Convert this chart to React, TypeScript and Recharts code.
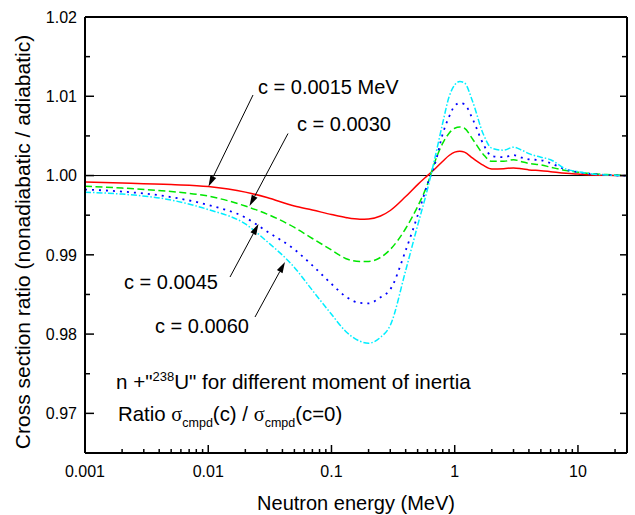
import { LineChart, Line, XAxis, YAxis, ReferenceLine } from 'recharts';

// neutron energy grid (MeV)
const energy = [
  0.001, 0.002, 0.005, 0.01, 0.02, 0.03, 0.05, 0.07, 0.1, 0.13, 0.17, 0.2, 0.25, 0.3, 0.4, 0.5, 0.6,
  0.7, 0.8, 0.9, 1.0, 1.1, 1.2, 1.4, 1.7, 2.0, 2.5, 3.0, 3.5, 4.0, 5.0, 6.0, 8.0, 10, 13, 17, 22, 25,
];

// sigma_cmpd(c) / sigma_cmpd(c=0) for each moment-of-inertia parameter c
const ratioC0015 = [
  0.9992, 0.99907, 0.99886, 0.99861, 0.99791, 0.99722, 0.99615, 0.99565, 0.99508, 0.9947, 0.99448,
  0.99452, 0.99489, 0.99559, 0.99735, 0.99886, 0.99999, 1.00093, 1.00181, 1.00253, 1.00295, 1.00307,
  1.00295, 1.00219, 1.00131, 1.00083, 1.00087, 1.00096, 1.00085, 1.00071, 1.00062, 1.00049, 1.00028,
  1.00018, 1.00008, 1.00003, 1.0, 1.0,
];
const ratioC0030 = [
  0.99864, 0.99842, 0.99798, 0.99741, 0.99615, 0.99514, 0.99345, 0.99206, 0.99061, 0.98954, 0.98917,
  0.98917, 0.98967, 0.99068, 0.99332, 0.99609, 0.99886, 1.002, 1.00408, 1.00534, 1.00597, 1.00612,
  1.00597, 1.00458, 1.0027, 1.00179, 1.00179, 1.002, 1.00175, 1.00153, 1.00134, 1.00106, 1.00062,
  1.00043, 1.00024, 1.00012, 1.00003, 1.0,
];
const ratioC0045 = [
  0.99823, 0.99798, 0.99728, 0.99628, 0.9947, 0.99294, 0.99068, 0.98866, 0.98633, 0.98476, 0.98394,
  0.98388, 0.98464, 0.98564, 0.99055, 0.99496, 0.99886, 1.00175, 1.00528, 1.00742, 1.0088, 1.00914,
  1.00899, 1.0071, 1.00402, 1.00244, 1.00232, 1.00257, 1.00226, 1.00204, 1.00194, 1.00156, 1.00075,
  1.00043, 1.0002, 1.00008, 1.0, 1.0,
];
const ratioC0060 = [
  0.99789, 0.99766, 0.99691, 0.99571, 0.99389, 0.99168, 0.98841, 0.98552, 0.9825, 0.98036, 0.9791,
  0.97885, 0.9796, 0.98111, 0.98803, 0.9937, 0.99823, 1.00263, 1.00666, 1.00993, 1.01144, 1.01186,
  1.01169, 1.0093, 1.00528, 1.00345, 1.0032, 1.00358, 1.0032, 1.00276, 1.00232, 1.002, 1.00081,
  1.00049, 1.0002, 1.00008, 1.0, 1.0,
];

const majorX = [0.001, 0.01, 0.1, 1, 10];
const minorX = [
  0.002, 0.003, 0.004, 0.005, 0.006, 0.007, 0.008, 0.009,
  0.02, 0.03, 0.04, 0.05, 0.06, 0.07, 0.08, 0.09,
  0.2, 0.3, 0.4, 0.5, 0.6, 0.7, 0.8, 0.9,
  2, 3, 4, 5, 6, 7, 8, 9, 20,
];
const majorY = [0.97, 0.98, 0.99, 1.0, 1.01, 1.02];
const minorY = [0.975, 0.985, 0.995, 1.005, 1.015];

const xTicks = [...majorX, ...minorX].sort((a, b) => a - b);
const yTicks = [...majorY, ...minorY].sort((a, b) => a - b);

const data = energy.map((e, i) => ({
  e,
  c1: ratioC0015[i],
  c2: ratioC0030[i],
  c3: ratioC0045[i],
  c4: ratioC0060[i],
}));

const FONT = '"Liberation Sans", Arial, Helvetica, sans-serif';
const SERIF = '"Liberation Serif", serif';
const W = 635;
const H = 515;

const isMajor = (list: number[], v: number) => list.some((m) => Math.abs(m - v) < 1e-9);

const BottomTick = ({ x, y, payload }: any) => {
  const major = isMajor(majorX, payload.value);
  return (
    <g>
      <line x1={x} y1={y} x2={x} y2={y - (major ? 8 : 4)} stroke="#000" strokeWidth={1.5} />
      {major && (
        <text x={x} y={y + 23.5} textAnchor="middle" fontSize={16} fontFamily={FONT} fill="#000">
          {String(payload.value)}
        </text>
      )}
    </g>
  );
};

const TopTick = ({ x, y, payload }: any) => {
  const major = isMajor(majorX, payload.value);
  return <line x1={x} y1={y} x2={x} y2={y + (major ? 8 : 4)} stroke="#000" strokeWidth={1.5} />;
};

const LeftTick = ({ x, y, payload }: any) => {
  const major = isMajor(majorY, payload.value);
  return (
    <g>
      <line x1={x} y1={y} x2={x + (major ? 9 : 5)} y2={y} stroke="#000" strokeWidth={1.5} />
      {major && (
        <text x={x - 8} y={y} dy="0.36em" textAnchor="end" fontSize={16} fontFamily={FONT} fill="#000">
          {payload.value.toFixed(2)}
        </text>
      )}
    </g>
  );
};

const RightTick = ({ x, y, payload }: any) => {
  const major = isMajor(majorY, payload.value);
  return <line x1={x} y1={y} x2={x - (major ? 7 : 5)} y2={y} stroke="#000" strokeWidth={1.5} />;
};

// labelled arrows pointing at the curves
const notes = [
  { text: 'c = 0.0015 MeV', tx: 258, ty: 94, from: [253, 95], to: [208.5, 186.5] },
  { text: 'c = 0.0030', tx: 297, ty: 130.5, from: [288, 133.5], to: [249.5, 206] },
  { text: 'c = 0.0045', tx: 124, ty: 289, from: [230, 277], to: [258.5, 224] },
  { text: 'c = 0.0060', tx: 155, ty: 332.5, from: [255, 317], to: [285, 262] },
];

function Arrow({ from, to }: { from: number[]; to: number[] }) {
  const [x1, y1] = from;
  const [x2, y2] = to;
  const len = Math.hypot(x2 - x1, y2 - y1);
  const ux = (x2 - x1) / len;
  const uy = (y2 - y1) / len;
  const hl = 11;
  const hw = 3.2;
  const bx = x2 - ux * hl;
  const by = y2 - uy * hl;
  const pts = `${x2},${y2} ${bx - uy * hw},${by + ux * hw} ${bx + uy * hw},${by - ux * hw}`;
  return (
    <g>
      <line x1={x1} y1={y1} x2={bx} y2={by} stroke="#000" strokeWidth={1} />
      <polygon points={pts} fill="#000" />
    </g>
  );
}

export default function App() {
  return (
    <div style={{ position: 'relative', width: W, height: H, background: '#fff' }}>
      <style>{'body{margin:0}'}</style>
      <LineChart width={W} height={H} data={data} margin={{ top: 7, right: 0, bottom: 0, left: 0 }}>
        <XAxis
          xAxisId="bottom"
          dataKey="e"
          type="number"
          scale="log"
          domain={[0.001, 25]}
          allowDataOverflow
          ticks={xTicks}
          interval={0}
          height={62}
          tickSize={0}
          tickMargin={0}
          tickLine={false}
          axisLine={{ stroke: '#000', strokeWidth: 2 }}
          tick={<BottomTick />}
        />
        <XAxis
          xAxisId="top"
          orientation="top"
          type="number"
          scale="log"
          domain={[0.001, 25]}
          allowDataOverflow
          ticks={xTicks}
          interval={0}
          height={10}
          tickSize={0}
          tickMargin={0}
          tickLine={false}
          axisLine={{ stroke: '#000', strokeWidth: 2 }}
          tick={<TopTick />}
        />
        <YAxis
          yAxisId="left"
          type="number"
          domain={[0.965, 1.02]}
          allowDataOverflow
          ticks={yTicks}
          interval={0}
          width={85}
          tickSize={0}
          tickMargin={0}
          tickLine={false}
          axisLine={{ stroke: '#000', strokeWidth: 2 }}
          tick={<LeftTick />}
        />
        <YAxis
          yAxisId="right"
          orientation="right"
          type="number"
          domain={[0.965, 1.02]}
          allowDataOverflow
          ticks={yTicks}
          interval={0}
          width={8}
          tickSize={0}
          tickMargin={0}
          tickLine={false}
          axisLine={{ stroke: '#000', strokeWidth: 2 }}
          tick={<RightTick />}
        />
        <ReferenceLine xAxisId="bottom" yAxisId="left" y={1} stroke="#000" strokeWidth={1} />
        <Line xAxisId="bottom" yAxisId="left" type="monotone" dataKey="c1" stroke="#ff0000" strokeWidth={1.5} dot={false} isAnimationActive={false} />
        <Line xAxisId="bottom" yAxisId="left" type="monotone" dataKey="c2" stroke="#00e600" strokeWidth={1.5} strokeDasharray="7 3.5" dot={false} isAnimationActive={false} />
        <Line xAxisId="bottom" yAxisId="left" type="monotone" dataKey="c3" stroke="#0000ff" strokeWidth={1.8} strokeDasharray="2 5" dot={false} isAnimationActive={false} />
        <Line xAxisId="bottom" yAxisId="left" type="monotone" dataKey="c4" stroke="#00eeff" strokeWidth={1.5} strokeDasharray="6 2 1.5 2" dot={false} isAnimationActive={false} />
      </LineChart>

      <svg
        width={W}
        height={H}
        style={{ position: 'absolute', left: 0, top: 0, pointerEvents: 'none' }}
        fontFamily={FONT}
        fill="#000"
      >
        <text x={356} y={510} textAnchor="middle" fontSize={20}>
          Neutron energy (MeV)
        </text>
        <text x={29.5} y={242} textAnchor="middle" fontSize={21} transform="rotate(-90 29.5 242)">
          Cross section ratio (nonadiabatic / adiabatic)
        </text>

        {notes.map((n) => (
          <g key={n.text}>
            <text x={n.tx} y={n.ty} fontSize={20}>
              {n.text}
            </text>
            <Arrow from={n.from} to={n.to} />
          </g>
        ))}

        <text x={116} y={389} fontSize={20.6}>
          n +"
          <tspan dy={-8} fontSize={13}>
            238
          </tspan>
          <tspan dy={8}>U" for different moment of inertia</tspan>
        </text>
        <text x={118} y={421} fontSize={20.4}>
          Ratio{' '}
          <tspan fontFamily={SERIF}>σ</tspan>
          <tspan dy={6} fontSize={12.5}>
            cmpd
          </tspan>
          <tspan dy={-6}>(c) / </tspan>
          <tspan fontFamily={SERIF}>σ</tspan>
          <tspan dy={6} fontSize={12.5}>
            cmpd
          </tspan>
          <tspan dy={-6}>(c=0)</tspan>
        </text>
      </svg>
    </div>
  );
}
